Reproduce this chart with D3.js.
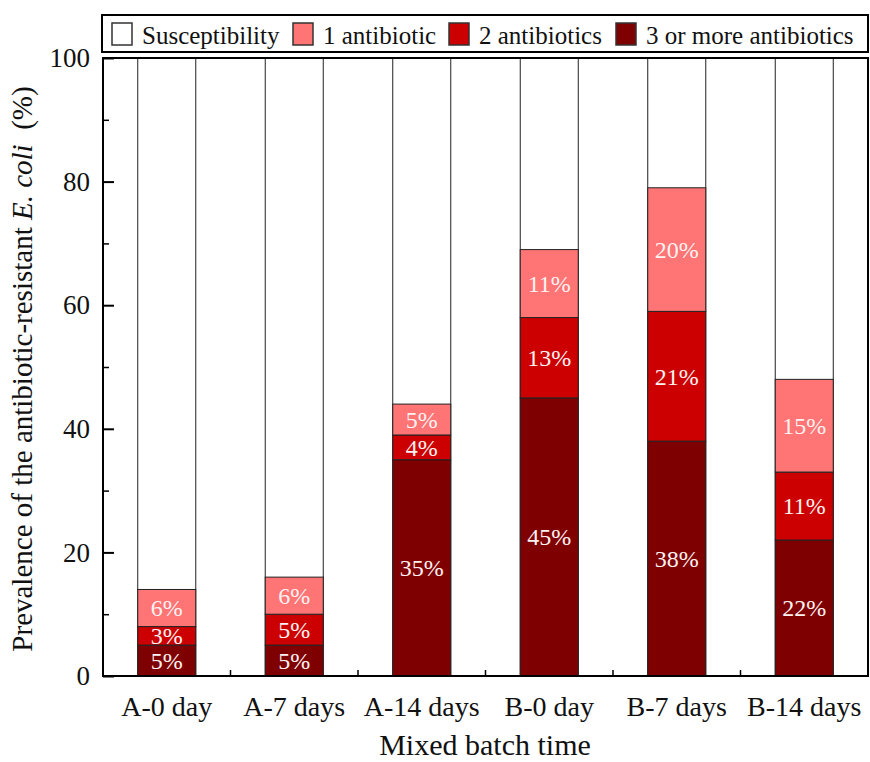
<!DOCTYPE html>
<html>
<head>
<meta charset="utf-8">
<script src="https://cdn.jsdelivr.net/npm/d3@7/dist/d3.min.js"></script>
<style>
  html, body { margin: 0; padding: 0; background: #fff; }
  svg text { font-family: 'Liberation Serif', 'Times New Roman', serif; }
</style>
</head>
<body>
<svg id="chart" width="870" height="762"></svg>
<script>
// Sampling times of the mixed batches
const categories = ["A-0 day", "A-7 days", "A-14 days", "B-0 day", "B-7 days", "B-14 days"];

// Share of isolates (%) resistant to 3+, 2 and 1 antibiotics
const threeOrMore = [5, 5, 35, 45, 38, 22];
const twoAntibiotics = [3, 5, 4, 13, 21, 11];
const oneAntibiotic = [6, 6, 5, 11, 20, 15];

const seriesNames = ["3 or more antibiotics", "2 antibiotics", "1 antibiotic"];
const legendNames = ["Susceptibility", "1 antibiotic", "2 antibiotics", "3 or more antibiotics"];
const yTicks = [0, 20, 40, 60, 80, 100];

const colors = {
  "Susceptibility": "#ffffff",
  "1 antibiotic": "#ff7474",
  "2 antibiotics": "#cc0000",
  "3 or more antibiotics": "#7f0000"
};

const FONT = "'Liberation Serif', 'Times New Roman', serif";
const svg = d3.select("#chart").attr("font-family", FONT);
const m = { left: 103, right: 868, top: 58, bottom: 676 };

const x = d3.scaleBand().domain(categories).range([m.left, m.right])
  .paddingInner(0.545).paddingOuter(0.2725);
const y = d3.scaleLinear().domain([0, 100]).range([m.bottom, m.top]);

// Build stacked table
const table = categories.map((c, i) => ({
  cat: c,
  "3 or more antibiotics": threeOrMore[i],
  "2 antibiotics": twoAntibiotics[i],
  "1 antibiotic": oneAntibiotic[i]
}));
const stack = d3.stack().keys(seriesNames)(table);

// Susceptible remainder up to 100%
svg.append("g").selectAll("rect").data(table).join("rect")
  .attr("x", d => x(d.cat))
  .attr("width", x.bandwidth())
  .attr("y", y(100))
  .attr("height", d => y(0) - y(100))
  .attr("fill", colors["Susceptibility"])
  .attr("stroke", "#222").attr("stroke-width", 1);

const layers = svg.append("g").selectAll("g").data(stack).join("g")
  .attr("fill", d => colors[d.key]);

layers.selectAll("rect").data(d => d).join("rect")
  .attr("x", d => x(d.data.cat))
  .attr("width", x.bandwidth())
  .attr("y", d => y(d[1]))
  .attr("height", d => y(d[0]) - y(d[1]))
  .attr("stroke", "#222").attr("stroke-width", 1);

layers.selectAll("text").data(d => d).join("text")
  .attr("x", d => x(d.data.cat) + x.bandwidth() / 2)
  .attr("y", d => (y(d[0]) + y(d[1])) / 2)
  .attr("dy", "0.35em")
  .attr("text-anchor", "middle")
  .attr("fill", "#fdf2f2")
  .attr("font-family", FONT)
  .attr("font-size", 24)
  .text(d => (d[1] - d[0]) + "%");

// Y axis ticks (inward), major and minor
const yAxis = d3.axisRight(y).tickValues(yTicks).tickSize(11).tickFormat("");
svg.append("g").attr("transform", `translate(${m.left},0)`).call(yAxis)
  .call(g => g.select(".domain").remove())
  .call(g => g.selectAll("line").attr("stroke", "#000").attr("stroke-width", 2));
const yMinor = d3.axisRight(y).tickValues([10, 30, 50, 70, 90]).tickSize(6).tickFormat("");
svg.append("g").attr("transform", `translate(${m.left},0)`).call(yMinor)
  .call(g => g.select(".domain").remove())
  .call(g => g.selectAll("line").attr("stroke", "#000").attr("stroke-width", 1.5));

svg.append("g").selectAll("text").data(yTicks).join("text")
  .attr("x", m.left - 13)
  .attr("y", d => y(d))
  .attr("dy", "0.34em")
  .attr("text-anchor", "end")
  .attr("font-family", FONT)
  .attr("font-size", 27)
  .attr("fill", "#111")
  .text(d => d);

// X axis: small inward ticks at the category boundaries
const boundaries = categories.slice(1).map(c => x(c) - x.step() * x.paddingInner() / 2);
svg.append("g").selectAll("line").data(boundaries).join("line")
  .attr("x1", d => d).attr("x2", d => d)
  .attr("y1", m.bottom).attr("y2", m.bottom - 6)
  .attr("stroke", "#000").attr("stroke-width", 1.5);

svg.append("g").selectAll("text").data(categories).join("text")
  .attr("x", d => x(d) + x.bandwidth() / 2)
  .attr("y", 716)
  .attr("text-anchor", "middle")
  .attr("font-family", FONT)
  .attr("font-size", 28)
  .attr("fill", "#111")
  .text(d => d);

// Plot frame
svg.append("rect")
  .attr("x", m.left).attr("y", m.top)
  .attr("width", m.right - m.left).attr("height", m.bottom - m.top)
  .attr("fill", "none").attr("stroke", "#000").attr("stroke-width", 2);

// Axis titles
svg.append("text")
  .attr("x", 485).attr("y", 755)
  .attr("text-anchor", "middle").attr("font-family", FONT)
  .attr("font-size", 30).attr("fill", "#111")
  .text("Mixed batch time");

const yTitle = svg.append("text")
  .attr("transform", `translate(32,369) rotate(-90)`)
  .attr("text-anchor", "middle").attr("font-family", FONT)
  .attr("font-size", 29).attr("fill", "#111");
yTitle.append("tspan").text("Prevalence of the antibiotic-resistant ");
yTitle.append("tspan").attr("font-style", "italic").text("E. coli");
yTitle.append("tspan").attr("xml:space", "preserve").text("  (%)");

// Legend
svg.append("rect")
  .attr("x", 102).attr("y", 15).attr("width", 766).attr("height", 37)
  .attr("fill", "#fff").attr("stroke", "#000").attr("stroke-width", 2);

const legendX = [112, 293, 449, 616];
const lg = svg.append("g").selectAll("g").data(legendNames).join("g")
  .attr("transform", (d, i) => `translate(${legendX[i]},23)`);
lg.append("rect")
  .attr("width", 20).attr("height", 22)
  .attr("fill", d => colors[d]).attr("stroke", "#333").attr("stroke-width", 1.5);
lg.append("text")
  .attr("x", 30).attr("y", 21)
  .attr("font-family", FONT)
  .attr("font-size", 25).attr("fill", "#111")
  .text(d => d);
</script>
</body>
</html>
